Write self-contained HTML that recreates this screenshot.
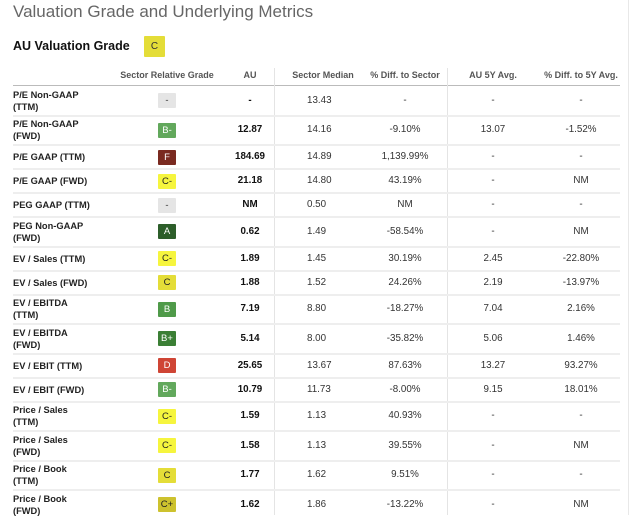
<!DOCTYPE html>
<html><head><meta charset="utf-8">
<style>
body{margin:0;width:640px;height:515px;overflow:hidden;background:#fff;font-family:"Liberation Sans",Arial,sans-serif;position:relative}
.abs{position:absolute}
.title{left:13px;top:2px;font-size:17px;color:#666;white-space:nowrap}
.sub{left:13px;top:39px;font-size:12.5px;font-weight:bold;color:#111}
.hdr{font-size:9px;color:#555;font-weight:bold;top:70px;white-space:nowrap;width:120px;text-align:center}
.lbl{left:13px;font-size:9.3px;font-weight:bold;color:#222;line-height:12px}
.cell{font-size:9.8px;color:#333;text-align:center;width:90px;line-height:12px}
.badge{width:18px;height:15px;font-size:9.5px;line-height:15px;text-align:center;border-radius:1px}
.sep{left:13px;width:607px;height:2px;background:#eeeeee}
</style></head><body>
<div class="abs title">Valuation Grade and Underlying Metrics</div>
<div class="abs sub">AU Valuation Grade</div>
<div class="abs badge" style="left:144px;top:36px;width:21px;height:21px;line-height:21px;background:#e4dd38;color:#333;font-size:10px">C</div>
<div class="abs hdr" style="left:107px">Sector Relative Grade</div>
<div class="abs hdr" style="left:190px">AU</div>
<div class="abs hdr" style="left:263px">Sector Median</div>
<div class="abs hdr" style="left:345px">% Diff. to Sector</div>
<div class="abs hdr" style="left:433px">AU 5Y Avg.</div>
<div class="abs hdr" style="left:521px">% Diff. to 5Y Avg.</div>
<div class="abs" style="left:13px;top:85px;width:607px;height:1px;background:#bbb"></div>
<div class="abs" style="left:274px;top:68px;width:1px;height:447px;background:#e4e4e4"></div>
<div class="abs" style="left:447px;top:68px;width:1px;height:447px;background:#e4e4e4"></div>
<div class="abs" style="left:628px;top:0;width:1px;height:515px;background:#e8e8e8"></div>
<div id="rows"></div>
<script>
const metrics=["P/E Non-GAAP<br>(TTM)","P/E Non-GAAP<br>(FWD)","P/E GAAP (TTM)","P/E GAAP (FWD)","PEG GAAP (TTM)","PEG Non-GAAP<br>(FWD)","EV / Sales (TTM)","EV / Sales (FWD)","EV / EBITDA<br>(TTM)","EV / EBITDA<br>(FWD)","EV / EBIT (TTM)","EV / EBIT (FWD)","Price / Sales<br>(TTM)","Price / Sales<br>(FWD)","Price / Book<br>(TTM)","Price / Book<br>(FWD)"];
const grades=["-","B-","F","C-","-","A","C-","C","B","B+","D","B-","C-","C-","C","C+"];
const auValues=["-","12.87","184.69","21.18","NM","0.62","1.89","1.88","7.19","5.14","25.65","10.79","1.59","1.58","1.77","1.62"];
const sectorMedian=["13.43","14.16","14.89","14.80","0.50","1.49","1.45","1.52","8.80","8.00","13.67","11.73","1.13","1.13","1.62","1.86"];
const diffSector=["-","-9.10%","1,139.99%","43.19%","NM","-58.54%","30.19%","24.26%","-18.27%","-35.82%","87.63%","-8.00%","40.93%","39.55%","9.51%","-13.22%"];
const avg5y=["-","13.07","-","-","-","-","2.45","2.19","7.04","5.06","13.27","9.15","-","-","-","-"];
const diff5y=["-","-1.52%","-","NM","-","NM","-22.80%","-13.97%","2.16%","1.46%","93.27%","18.01%","-","NM","-","NM"];
const gradeColors={"-":["#e5e5e5","#333"],"A":["#2d5e2a","#fff"],"B+":["#3b7f35","#fff"],"B":["#4f9a49","#fff"],"B-":["#62a85c","#fff"],"C+":["#cdc22e","#222"],"C":["#e4dd38","#222"],"C-":["#f6f53e","#222"],"D":["#cf4535","#fff"],"F":["#7a2a20","#fff"]};
const root=document.getElementById('rows');
let y=86;
metrics.forEach((m,i)=>{
  const two=m.indexOf('<br>')>=0;
  const h=two?29.5:24;
  const cy=y+h/2;
  const add=(cls,html,left,top,extra)=>{const d=document.createElement('div');d.className='abs '+cls;d.innerHTML=html;d.style.left=left+'px';d.style.top=top+'px';if(extra)d.style.cssText+=extra;root.appendChild(d);return d;};
  const l=add('lbl',m,13,cy-(two?12:6));
  
  
  const gc=gradeColors[grades[i]];
  const b=add('badge',grades[i],158,cy-7.5,'background:'+gc[0]+';color:'+gc[1]);
  
  
  const a=add('cell',auValues[i],205,cy-6,'font-weight:bold;color:#111');
  
  
  const s=add('cell',sectorMedian[i],307,cy-6,'text-align:left');
  
  
  const d1=add('cell',diffSector[i],360,cy-6);
  
  
  const f=add('cell',avg5y[i],448,cy-6);
  
  
  const d2=add('cell',diff5y[i],536,cy-6);
  
  
  y+=h;
  if(i<metrics.length-1){
    const sp=add('sep','',13,y-1);
    
    
  }
});
</script>
</body></html>
